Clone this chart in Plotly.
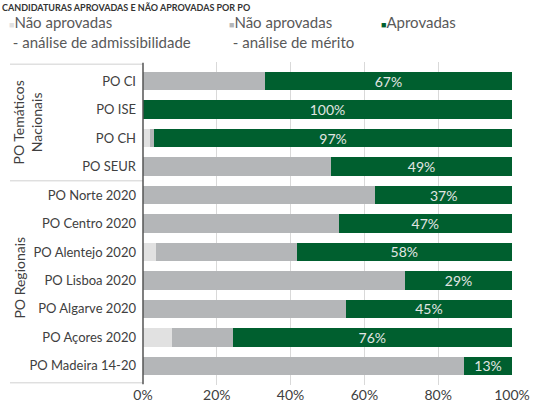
import plotly.graph_objects as go

# programas operacionais (top to bottom)
programas = ['PO CI', 'PO ISE', 'PO CH', 'PO SEUR', 'PO Norte 2020', 'PO Centro 2020',
             'PO Alentejo 2020', 'PO Lisboa 2020', 'PO Algarve 2020', 'PO Açores 2020',
             'PO Madeira 14-20']

# shares of applications, in %
nao_admissibilidade = [0, 0, 1.8, 0, 0, 0, 3.4, 0, 0, 7.8, 0]
nao_merito = [33, 0, 1.2, 51, 63, 53, 38.2, 71, 55, 16.5, 87]
aprovadas = [67, 100, 97, 49, 37, 47, 58.4, 29, 45, 75.7, 13]

x_ticks = [0, 20, 40, 60, 80, 100]

series = [
    ('Não aprovadas<br>\u00a0- análise de admissibilidade', nao_admissibilidade, '#e1e1e1'),
    ('Não aprovadas<br>\u00a0- análise de mérito', nao_merito, '#b4b6b8'),
    ('Aprovadas', aprovadas, '#005f2f'),
]

FONT = 'Lato'
TXT = '#404040'
W, H = 535, 410
L, R, T, B = 143, 23, 62, 25
PW, PH = W - L - R, H - T - B


def px_x(p):
    """paper x coordinate for a pixel column"""
    return (p - L) / PW


def px_y(p):
    """paper y coordinate for a pixel row"""
    return 1 + (T - p) / PH


fig = go.Figure()

for name, vals, color in series:
    fig.add_trace(go.Bar(y=programas, x=vals, orientation='h', name=name,
                         marker=dict(color=color, line=dict(width=0)),
                         hoverinfo='skip'))

# percentage labels on the approved segment
fig.data[2].update(
    text=[f'{round(v)}%' for v in aprovadas],
    textposition='inside', insidetextanchor='middle',
    textfont=dict(family=FONT, size=14, color='#e2e6e3'),
    constraintext='none',
)

# legend drawn as compact text entries (small square right before the text)
legend_px = [7, 227, 379]
for (name, vals, color), lx in zip(series, legend_px):
    fig.add_annotation(
        text=f'<span style="color:{color};font-size:9px">■</span>{name}',
        xref='paper', yref='paper', x=px_x(lx), y=px_y(11),
        xanchor='left', yanchor='top', align='left', showarrow=False,
        font=dict(family=FONT, size=15, color='#595959'))

# separator lines for the two groups of programmes
for yv in [-0.6, 3.5, 10.6]:
    fig.add_shape(type='line', xref='paper', yref='y', x0=px_x(10), x1=0, y0=yv, y1=yv,
                  line=dict(color='#d0d0d0', width=1))
# left axis line
fig.add_shape(type='line', xref='paper', yref='y', x0=0, x1=0, y0=-0.65, y1=10.65,
              line=dict(color='#555555', width=1.5))

fig.add_annotation(text='PO Temáticos<br>Nacionais', xref='paper', yref='y',
                   x=px_x(27), y=1.45, xanchor='center', yanchor='middle',
                   textangle=-90, showarrow=False,
                   font=dict(family=FONT, size=14, color=TXT))
fig.add_annotation(text='PO Regionais', xref='paper', yref='y',
                   x=px_x(20), y=6.9, xanchor='center', yanchor='middle',
                   textangle=-90, showarrow=False,
                   font=dict(family=FONT, size=14, color=TXT))

fig.add_annotation(text='<b>CANDIDATURAS APROVADAS E NÃO APROVADAS POR PO</b>',
                   xref='paper', yref='paper', x=px_x(0), y=px_y(0), xanchor='left',
                   yanchor='top', showarrow=False,
                   font=dict(family=FONT, size=9, color='#333333'))

fig.update_layout(
    width=W, height=H,
    barmode='stack', bargap=0.35,
    margin=dict(l=L, r=R, t=T, b=B),
    plot_bgcolor='white', paper_bgcolor='white',
    font=dict(family=FONT, size=14, color=TXT),
    showlegend=False,
)
fig.update_xaxes(range=[0, 100], tickvals=x_ticks, ticktext=[f'{t}%' for t in x_ticks],
                 showgrid=True, gridcolor='#d9d9d9', gridwidth=1, zeroline=False,
                 showline=False, ticks='', automargin=False,
                 tickfont=dict(family=FONT, size=14, color=TXT))
fig.update_yaxes(autorange='reversed', showgrid=False, showline=False, ticks='',
                 automargin=False, ticklabelstandoff=6,
                 tickfont=dict(family=FONT, size=13, color=TXT))

# drop the default page margin so the figure sits at the window's top-left corner
fig.write_html('out.html', config={'displayModeBar': False},
               post_script="document.body.style.margin='0px';")
